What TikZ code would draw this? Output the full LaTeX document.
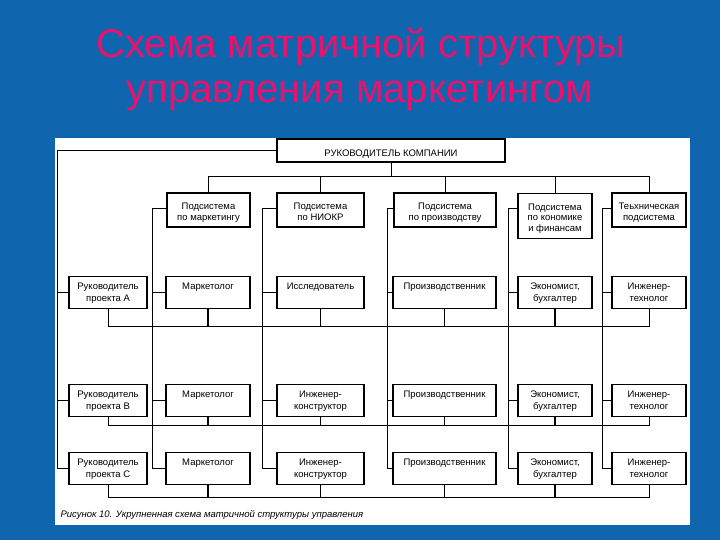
\documentclass[tikz,border=0pt]{standalone}
\usepackage{fontspec}
\setmainfont{Liberation Sans}
\usetikzlibrary{positioning}

\definecolor{slideblue}{RGB}{16,101,175}
\definecolor{titlepink}{RGB}{236,18,108}
\newcommand{\cellfont}{\fontsize{9.5}{11.5}\selectfont}

\begin{document}
\begin{tikzpicture}[x=1pt, y=-1pt,
    cell/.style={draw, line width=1.1pt, fill=white, align=center, font=\cellfont,
      inner sep=2pt, text height=11pt, text depth=17pt, minimum height=32pt},
    twoline/.style={text height=22.5pt, text depth=5.5pt},
    subsys/.style={cell, text height=26pt, text depth=4pt, minimum height=34pt},
    link/.style={line width=1pt},
    stub/.style={line width=1.7pt}]
  \fill[slideblue] (0,0) rectangle (720,540);
  \useasboundingbox (0,0) rectangle (720,540);
  \fill[white] (55,138) rectangle (690,525);

  % title
  \node[font=\fontsize{40}{46}\selectfont, text=titlepink, anchor=base] (title1) at (361,58) {Схема матричной структуры};
  \node[font=\fontsize{40}{46}\selectfont, text=titlepink, anchor=base] (title2) at (360,103) {управления маркетингом};

  % head and subsystems
  \node[cell, text height=16pt, text depth=3pt, minimum height=23pt, minimum width=228pt] (boss) at (391,150.5) {РУКОВОДИТЕЛЬ КОМПАНИИ};
  \node[subsys, minimum width=83pt] (mkt) at (208.5,210) {Подсистема\\по маркетингу};
  \node[subsys, minimum width=87pt] (rnd) at (320.5,210) {Подсистема\\по НИОКР};
  \node[subsys, minimum width=102pt] (prod) at (445,210) {Подсистема\\по производству};
  \node[subsys, font=\fontsize{9.5}{10.8}\selectfont, text height=36.5pt, text depth=4.5pt, minimum height=45pt, minimum width=74pt] (eco) at (555,215.8) {Подсистема\\по кономике\\и финансам};
  \node[subsys, minimum width=74pt] (tech) at (649,210) {Теьхническая\\подсистема};

  % project A
  \node[cell, twoline, minimum width=78pt] (ldrA) at (108,292.5) {Руководитель\\проекта А};
  \node[cell, minimum width=84pt] (mktA) at (208,292.5) {Маркетолог};
  \node[cell, minimum width=87pt] (resA) at (320.5,292.5) {Исследователь};
  \node[cell, minimum width=103pt] (prodA) at (444.5,292.5) {Производственник};
  \node[cell, twoline, minimum width=74pt] (ecoA) at (555,292.5) {Экономист,\\бухгалтер};
  \node[cell, twoline, minimum width=74pt] (techA) at (649,292.5) {Инженер-\\технолог};

  % project B
  \node[cell, twoline, minimum width=78pt] (ldrB) at (108,400.5) {Руководитель\\проекта В};
  \node[cell, minimum width=84pt] (mktB) at (208,400.5) {Маркетолог};
  \node[cell, twoline, minimum width=87pt] (engB) at (320.5,400.5) {Инженер-\\конструктор};
  \node[cell, minimum width=103pt] (prodB) at (444.5,400.5) {Производственник};
  \node[cell, twoline, minimum width=74pt] (ecoB) at (555,400.5) {Экономист,\\бухгалтер};
  \node[cell, twoline, minimum width=74pt] (techB) at (649,400.5) {Инженер-\\технолог};

  % project C
  \node[cell, twoline, minimum width=78pt] (ldrC) at (108,468.5) {Руководитель\\проекта С};
  \node[cell, minimum width=84pt] (mktC) at (208,468.5) {Маркетолог};
  \node[cell, twoline, minimum width=87pt] (engC) at (320.5,468.5) {Инженер-\\конструктор};
  \node[cell, minimum width=103pt] (prodC) at (444.5,468.5) {Производственник};
  \node[cell, twoline, minimum width=74pt] (ecoC) at (555,468.5) {Экономист,\\бухгалтер};
  \node[cell, twoline, minimum width=74pt] (techC) at (649,468.5) {Инженер-\\технолог};

  \node[font=\cellfont\itshape, anchor=base west] (caption) at (57,517) {Рисунок 10. Укрупненная схема матричной структуры управления};

  \coordinate (lft) at (57,0);
  \coordinate (tbus) at (0,177);
  \coordinate (colM) at (152,209);
  \coordinate (colR) at (262,209);
  \coordinate (colP) at (387,209);
  \coordinate (colE) at (508,209);
  \coordinate (colT) at (602,209);
  \coordinate (busA) at (0,326);
  \coordinate (busB) at (0,425.5);
  \coordinate (busC) at (0,497);

  % head to subsystems and project leaders
  \draw[link] (boss.south) -- (boss.south |- tbus);
  \draw[link] (mkt.north) |- (tech.north |- tbus) -- (tech.north);
  \draw[link] (rnd.north) -- (rnd.north |- tbus) (prod.north) -- (prod.north |- tbus) (eco.north) -- (eco.north |- tbus);
  \draw[link] (boss.west) -| (ldrC.west -| lft) -- (ldrC.west);
  \draw[stub] (ldrA.west -| lft) -- (ldrA.west) (ldrB.west -| lft) -- (ldrB.west);

  % subsystem columns
  \draw[link] (colM -| mkt.west) -- (colM) |- (mktC.west);
  \draw[link] (colR -| rnd.west) -- (colR) |- (engC.west);
  \draw[link] (colP -| prod.west) -- (colP) |- (prodC.west);
  \draw[link] (colE -| eco.west) -- (colE) |- (ecoC.west);
  \draw[link] (colT -| tech.west) -- (colT) |- (techC.west);
  \draw[stub] (mktA.west -| colM) -- (mktA.west) (mktB.west -| colM) -- (mktB.west);
  \draw[stub] (resA.west -| colR) -- (resA.west) (engB.west -| colR) -- (engB.west);
  \draw[stub] (prodA.west -| colP) -- (prodA.west) (prodB.west -| colP) -- (prodB.west);
  \draw[stub] (ecoA.west -| colE) -- (ecoA.west) (ecoB.west -| colE) -- (ecoB.west);
  \draw[stub] (techA.west -| colT) -- (techA.west) (techB.west -| colT) -- (techB.west);

  % project buses
  \draw[link] (ldrA.south) |- (techA.south |- busA) -- (techA.south);
  \draw[stub] (mktA.south) -- (mktA.south |- busA) (resA.south) -- (resA.south |- busA) (prodA.south) -- (prodA.south |- busA) (ecoA.south) -- (ecoA.south |- busA);
  \draw[link] (ldrB.south) |- (techB.south |- busB) -- (techB.south);
  \draw[stub] (mktB.south) -- (mktB.south |- busB) (engB.south) -- (engB.south |- busB) (prodB.south) -- (prodB.south |- busB) (ecoB.south) -- (ecoB.south |- busB);
  \draw[link] (ldrC.south) |- (techC.south |- busC) -- (techC.south);
  \draw[stub] (mktC.south) -- (mktC.south |- busC) (engC.south) -- (engC.south |- busC) (prodC.south) -- (prodC.south |- busC) (ecoC.south) -- (ecoC.south |- busC);
\end{tikzpicture}
\end{document}
